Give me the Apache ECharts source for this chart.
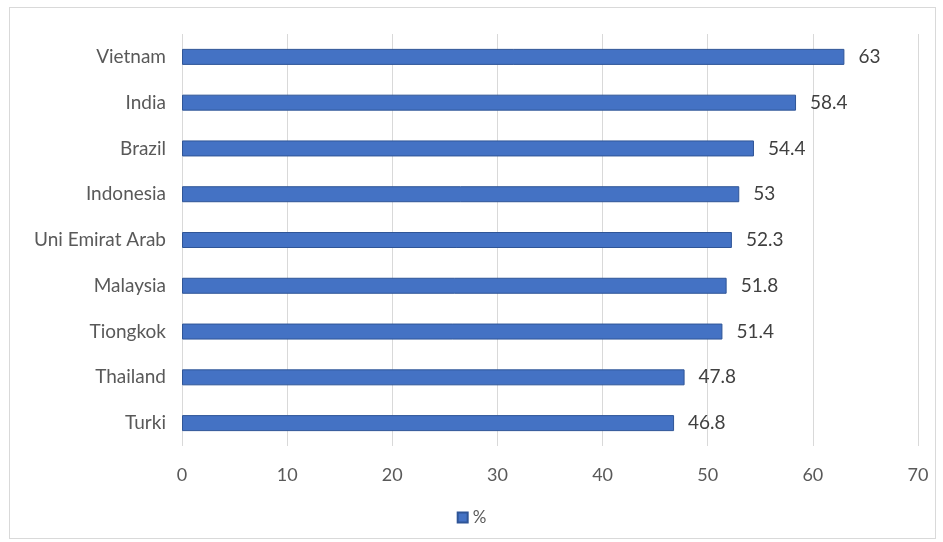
<!DOCTYPE html>
<html>
<head>
<meta charset="utf-8">
<script src="https://cdn.jsdelivr.net/npm/echarts@6/dist/echarts.min.js"></script>
<style>
html,body{margin:0;padding:0;background:#fff;}
#frame{position:absolute;left:9px;top:7px;width:925px;height:530px;border:1px solid #d9d9d9;}
#c{position:absolute;left:0;top:0;width:943px;height:542px;}
</style>
</head>
<body>
<div id="frame"></div>
<div id="c"></div>
<script>
const categories = ['Vietnam','India','Brazil','Indonesia','Uni Emirat Arab','Malaysia','Tiongkok','Thailand','Turki'];
const values = [63, 58.4, 54.4, 53, 52.3, 51.8, 51.4, 47.8, 46.8];
const seriesName = '%';

const FONT = 'Lato, Open Sans, Liberation Sans, sans-serif';
const chart = echarts.init(document.getElementById('c'), null, {renderer:'canvas'});
chart.setOption({
  animation:false,
  backgroundColor:'transparent',
  textStyle:{fontFamily:FONT},
  grid:{left:182, right:25, top:34, bottom:96, containLabel:false},
  legend:{
    bottom:11, left:'center', itemWidth:10, itemHeight:10, icon:'rect', itemGap:10,
    textStyle:{color:'#595959', fontSize:17, fontFamily:FONT},
    data:[seriesName]
  },
  xAxis:{
    type:'value', min:0, max:70, interval:10,
    axisLine:{show:false}, axisTick:{show:false},
    splitLine:{show:true, lineStyle:{color:'#d9d9d9', width:1}},
    axisLabel:{color:'#595959', fontSize:18, margin:20, fontFamily:FONT}
  },
  yAxis:{
    type:'category', data:categories, inverse:true,
    axisLine:{show:false}, axisTick:{show:false},
    axisLabel:{color:'#595959', fontSize:19, margin:16, fontFamily:FONT}
  },
  series:[{
    name:seriesName, type:'bar', data:values, barWidth:16,
    itemStyle:{color:'#4472C4', borderColor:'#2F5597', borderWidth:1},
    label:{show:true, position:'right', distance:14, color:'#404040', fontSize:19, fontFamily:FONT}
  }]
});
</script>
</body>
</html>
